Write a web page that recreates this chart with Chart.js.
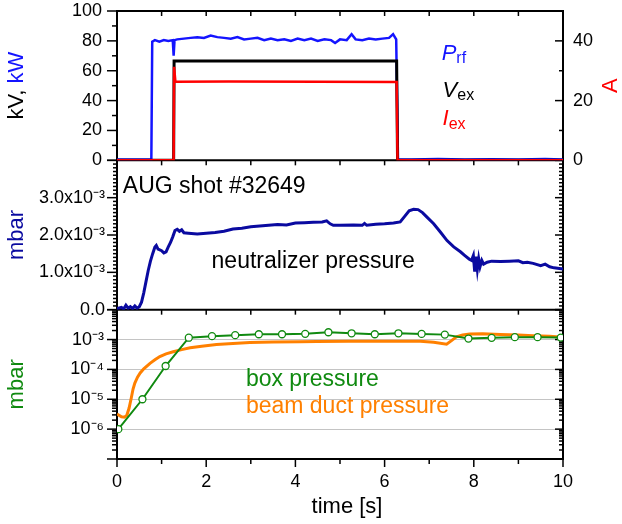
<!DOCTYPE html>
<html>
<head>
<meta charset="utf-8">
<script src="https://cdn.jsdelivr.net/npm/chart.js@4.4.1/dist/chart.umd.min.js"></script>
<style>
  html, body { margin: 0; background: #fff; }
</style>
</head>
<body>
<canvas id="chart" width="622" height="524"></canvas>
<script>
const FONT = "'Liberation Sans', Arial, sans-serif";
Chart.defaults.font.family = FONT;
Chart.defaults.color = '#000';

// panel 1 : rf power (kW), extraction voltage (kV), extraction current (A)
const prfTime = [0, 0.4, 0.77, 0.79, 0.85, 0.95, 1.05, 1.15, 1.25, 1.27, 1.29, 1.35, 1.5, 1.65, 1.8, 1.95, 2.1, 2.25, 2.4, 2.55, 2.7, 2.85, 3.0, 3.15, 3.3, 3.45, 3.6, 3.75, 3.9, 4.05, 4.2, 4.35, 4.5, 4.65, 4.8, 4.89, 5.0, 5.15, 5.26, 5.35, 5.5, 5.65, 5.8, 5.95, 6.1, 6.19, 6.26, 6.3, 6.6, 7.2, 7.8, 8.4, 9.0, 9.6, 10];
const prfKW   = [0.5, 0.6, 0.6, 79.5, 80.5, 79.5, 80.5, 80, 80.5, 70, 80.5, 81, 81.5, 82, 82.5, 82, 83.5, 82.5, 82, 81.5, 82.5, 81, 81.5, 82, 80.5, 81.5, 80.5, 81, 80, 81.5, 80.5, 81.5, 80, 81, 80.5, 78.6, 81, 80.5, 84.5, 81, 80.5, 81.5, 81, 81.5, 82, 84.5, 81, 0.8, 0.5, 0.9, 0.6, 0.8, 0.5, 0.9, 0.6];
const vexTime = [0, 1.27, 1.28, 6.27, 6.29, 10];
const vexKV   = [0, 0, 66.5, 66.5, 0, 0];
const iexTime = [0, 1.27, 1.28, 1.31, 2.5, 4.5, 6.27, 6.29, 10];
const iexA    = [0, 0, 31.3, 26.3, 26.4, 26.3, 26.2, 0, 0];

// panel 2 : neutralizer pressure (mbar)
const neutTime = [0, 0.1, 0.15, 0.2, 0.25, 0.3, 0.35, 0.4, 0.45, 0.5, 0.55, 0.6, 0.65, 0.7, 0.75, 0.8, 0.85, 0.88, 0.92, 0.96, 1.0, 1.05, 1.1, 1.15, 1.2, 1.25, 1.3, 1.35, 1.4, 1.45, 1.5, 1.6, 1.8, 2.0, 2.2, 2.4, 2.6, 2.8, 3.0, 3.2, 3.4, 3.6, 3.8, 4.0, 4.2, 4.4, 4.6, 4.7, 4.78, 4.85, 5.0, 5.3, 5.5, 5.55, 5.6, 5.8, 6.0, 6.2, 6.35, 6.45, 6.55, 6.65, 6.75, 6.85, 6.95, 7.1, 7.25, 7.4, 7.55, 7.7, 7.8, 7.9, 7.95, 7.99, 8.02, 8.05, 8.08, 8.11, 8.14, 8.18, 8.22, 8.3, 8.4, 8.6, 8.8, 9.0, 9.1, 9.2, 9.33, 9.5, 9.6, 9.7, 9.8, 10];
const neutMbar = [0.03e-3, 0.06e-3, 0.02e-3, 0.12e-3, 0.04e-3, 0.08e-3, 0.03e-3, 0.1e-3, 0.04e-3, 0.08e-3, 0.2e-3, 0.45e-3, 0.75e-3, 1.05e-3, 1.3e-3, 1.5e-3, 1.68e-3, 1.72e-3, 1.62e-3, 1.6e-3, 1.58e-3, 1.52e-3, 1.55e-3, 1.68e-3, 1.8e-3, 1.95e-3, 2.12e-3, 2.15e-3, 2.1e-3, 2.14e-3, 2.06e-3, 2.05e-3, 2.03e-3, 2.05e-3, 2.07e-3, 2.1e-3, 2.16e-3, 2.18e-3, 2.22e-3, 2.24e-3, 2.26e-3, 2.28e-3, 2.27e-3, 2.32e-3, 2.33e-3, 2.34e-3, 2.35e-3, 2.38e-3, 2.3e-3, 2.26e-3, 2.26e-3, 2.27e-3, 2.26e-3, 2.31e-3, 2.26e-3, 2.29e-3, 2.3e-3, 2.32e-3, 2.35e-3, 2.5e-3, 2.65e-3, 2.69e-3, 2.68e-3, 2.6e-3, 2.48e-3, 2.3e-3, 2.08e-3, 1.85e-3, 1.68e-3, 1.55e-3, 1.45e-3, 1.35e-3, 1.32e-3, 1.45e-3, 1.02e-3, 1.42e-3, 1.08e-3, 1.36e-3, 1.15e-3, 1.32e-3, 1.22e-3, 1.27e-3, 1.3e-3, 1.29e-3, 1.3e-3, 1.31e-3, 1.26e-3, 1.27e-3, 1.24e-3, 1.18e-3, 1.22e-3, 1.15e-3, 1.12e-3, 1.09e-3];

// panel 3 : box pressure and beam duct pressure (mbar, log)
const boxTime = [0.03, 0.57, 1.09, 1.61, 2.13, 2.65, 3.18, 3.70, 4.22, 4.74, 5.26, 5.78, 6.31, 6.83, 7.35, 7.88, 8.40, 8.92, 9.43, 9.95];
const boxMbar = [1.0e-6, 1.0e-5, 1.3e-4, 1.15e-3, 1.3e-3, 1.4e-3, 1.5e-3, 1.5e-3, 1.55e-3, 1.75e-3, 1.62e-3, 1.5e-3, 1.62e-3, 1.54e-3, 1.46e-3, 1.08e-3, 1.14e-3, 1.2e-3, 1.2e-3, 1.16e-3];
const ductTime = [0, 0.1, 0.17, 0.22, 0.27, 0.32, 0.36, 0.4, 0.46, 0.52, 0.6, 0.74, 0.85, 0.96, 1.1, 1.26, 1.45, 1.64, 1.9, 2.23, 2.6, 2.98, 3.5, 4.1, 4.48, 5.2, 6.35, 6.8, 7.1, 7.39, 7.5, 7.61, 7.75, 7.91, 8.2, 8.59, 9.0, 9.33, 9.7, 10];
const ductMbar = [3.2e-6, 2.6e-6, 2.5e-6, 2.9e-6, 5e-6, 1.1e-5, 2.2e-5, 3.5e-5, 5.5e-5, 7.6e-5, 1.05e-4, 1.6e-4, 2.1e-4, 2.7e-4, 3.3e-4, 3.9e-4, 4.6e-4, 5.3e-4, 6.0e-4, 6.8e-4, 7.4e-4, 7.9e-4, 8.2e-4, 8.4e-4, 8.6e-4, 8.7e-4, 8.8e-4, 8.8e-4, 8.1e-4, 7.0e-4, 9.2e-4, 1.23e-3, 1.42e-3, 1.54e-3, 1.55e-3, 1.48e-3, 1.42e-3, 1.35e-3, 1.28e-3, 1.2e-3];

// tick labels
const xTicks = [0, 2, 4, 6, 8, 10];
const kvTicks = [0, 20, 40, 60, 80, 100];
const ampTicks = [0, 20, 40];
const neutTicks = [0, 1e-3, 2e-3, 3e-3];
const neutLabels = ['0.0', '1.0x10⁻³', '2.0x10⁻³', '3.0x10⁻³'];
const logTicks = [1e-3, 1e-4, 1e-5, 1e-6];
const logLabels = ['10⁻³', '10⁻⁴', '10⁻⁵', '10⁻⁶'];

const BLUE = '#1414ff', DARKBLUE = '#0a0aa0', GREEN = '#108a10', ORANGE = '#ff8000', RED = '#ff0000';

const pts = (ts, vs) => ts.map((t, i) => ({ x: t, y: vs[i] }));
const setTicks = vals => sc => { sc.ticks = vals.map(v => ({ value: v })); };
// fixed axis boxes so the plot area lands where the original has it
const fixWidth = w => sc => { sc.width = w; sc.paddingTop = 0; sc.paddingBottom = 0; };

// frame, panel separators and Origin-style tick marks
const panelFrame = {
  id: 'panelFrame',
  beforeDatasetsDraw(chart) {
    const { ctx, chartArea: a, scales: s } = chart;
    const seg = (x1, y1, x2, y2) => { ctx.beginPath(); ctx.moveTo(x1, y1); ctx.lineTo(x2, y2); ctx.stroke(); };
    const side = (sc, v, outLen, inLen) => {
      const y = sc.getPixelForValue(v);
      if (outLen) seg(a.left - outLen, y, a.left, y);
      if (inLen) seg(a.right - inLen, y, a.right, y);
    };
    ctx.save();
    ctx.strokeStyle = '#000';
    ctx.lineWidth = 1.5;
    for (let i = 0; i <= 10; i++) side(s.y1, i * 10, i % 2 ? 5 : 10, 0);
    for (let i = 0; i <= 5; i++) side(s.yA, i * 10, 0, i % 2 ? 4 : 8);
    for (let i = 0; i <= 40; i++) side(s.y2, i * 1e-4, i % 10 ? 4 : 10, i % 10 ? 4 : 8);
    for (let d = -7; d <= -2; d++) {
      for (let k = 1; k <= 9; k++) {
        if (d === -2 && k > 1) break;
        const v = k * Math.pow(10, d);
        side(s.y3, v, k === 1 ? 10 : 5, k === 1 ? 8 : 4);
      }
    }
    for (let t = 0; t <= 10; t++) {
      const x = s.x.getPixelForValue(t);
      [s.y1.top, s.y2.top, s.y3.top].forEach(top => seg(x, top, x, top + 5));
      seg(x, a.bottom, x, a.bottom + (t % 2 ? 5 : 8));
    }
    ctx.lineWidth = 2;
    ctx.strokeRect(a.left, a.top, a.right - a.left, a.bottom - a.top);
    seg(a.left, s.y1.bottom, a.right, s.y1.bottom);
    seg(a.left, s.y2.bottom, a.right, s.y2.bottom);
    ctx.restore();
  }
};

// draw a run of text pieces (for sub/superscripts and two-colour titles)
function runText(ctx, x, y, parts, rotate) {
  ctx.save();
  ctx.textBaseline = 'middle';
  ctx.textAlign = 'left';
  let w = 0;
  parts.forEach(p => { ctx.font = p.font; w += ctx.measureText(p.text).width; });
  ctx.translate(x, y);
  let cx = 0;
  if (rotate) { ctx.rotate(-Math.PI / 2); cx = -w / 2; }
  parts.forEach(p => {
    ctx.font = p.font;
    ctx.fillStyle = p.color;
    ctx.fillText(p.text, cx, p.dy || 0);
    cx += ctx.measureText(p.text).width;
  });
  ctx.restore();
}

const panelText = {
  id: 'panelText',
  afterDraw(chart) {
    const { ctx, chartArea: a, scales: s } = chart;
    const big = '23px ' + FONT, title = '22px ' + FONT;
    const it = 'italic 22px ' + FONT, sub = '16px ' + FONT;
    const X = t => s.x.getPixelForValue(t);

    runText(ctx, s.y1.left + 17, (s.y1.top + s.y1.bottom) / 2,
      [{ text: 'kV, ', font: title, color: '#000' }, { text: 'kW', font: title, color: BLUE }], true);
    runText(ctx, s.y2.left + 17, (s.y2.top + s.y2.bottom) / 2, [{ text: 'mbar', font: title, color: DARKBLUE }], true);
    runText(ctx, s.y3.left + 17, (s.y3.top + s.y3.bottom) / 2, [{ text: 'mbar', font: title, color: GREEN }], true);
    runText(ctx, s.yA.left + 48, (s.yA.top + s.yA.bottom) / 2, [{ text: 'A', font: title, color: RED }], true);
    ctx.save();
    ctx.font = title; ctx.fillStyle = '#000'; ctx.textAlign = 'center'; ctx.textBaseline = 'middle';
    ctx.fillText('time [s]', (a.left + a.right) / 2 + 7, a.bottom + 48);
    ctx.restore();

    runText(ctx, X(7.28), s.y1.getPixelForValue(71.5),
      [{ text: 'P', font: it, color: BLUE }, { text: 'rf', font: sub, color: BLUE, dy: 5 }]);
    runText(ctx, X(7.3), s.y1.getPixelForValue(46.5),
      [{ text: 'V', font: it, color: '#000' }, { text: 'ex', font: sub, color: '#000', dy: 5 }]);
    runText(ctx, X(7.3), s.y1.getPixelForValue(27.5),
      [{ text: 'I', font: it, color: RED }, { text: 'ex', font: sub, color: RED, dy: 5 }]);

    runText(ctx, X(0.13), s.y2.getPixelForValue(3.3e-3), [{ text: 'AUG shot #32649', font: big, color: '#000' }]);
    runText(ctx, X(2.12), s.y2.getPixelForValue(1.29e-3), [{ text: 'neutralizer pressure', font: big, color: '#000' }]);
    runText(ctx, X(2.89), s.y3.getPixelForValue(4.4e-5), [{ text: 'box pressure', font: big, color: GREEN }]);
    runText(ctx, X(2.89), s.y3.getPixelForValue(5.6e-6), [{ text: 'beam duct pressure', font: big, color: ORANGE }]);
  }
};

const tickFont = { size: 18 };
const hidden = { display: false };
const noGrid = { display: false, drawTicks: false };

new Chart(document.getElementById('chart'), {
  type: 'line',
  data: {
    datasets: [
      { data: pts(iexTime, iexA), yAxisID: 'yA', borderColor: RED, borderWidth: 2.5 },
      { data: pts(vexTime, vexKV), yAxisID: 'y1', borderColor: '#000', borderWidth: 3 },
      { data: pts(prfTime, prfKW), yAxisID: 'y1', borderColor: BLUE, borderWidth: 2.5 },
      { data: pts(neutTime, neutMbar), yAxisID: 'y2', borderColor: DARKBLUE, borderWidth: 3 },
      { data: pts(boxTime, boxMbar), yAxisID: 'y3', borderColor: GREEN, borderWidth: 2,
        pointRadius: 3.5, pointBackgroundColor: '#fff', pointBorderColor: GREEN, pointBorderWidth: 1.3 },
      { data: pts(ductTime, ductMbar), yAxisID: 'y3', borderColor: ORANGE, borderWidth: 3 }
    ]
  },
  options: {
    responsive: false,
    animation: false,
    devicePixelRatio: 1,
    layout: { padding: { top: 11 } },
    elements: { line: { tension: 0 }, point: { radius: 0, hoverRadius: 0 } },
    plugins: { legend: hidden, tooltip: { enabled: false } },
    scales: {
      x: {
        type: 'linear', min: 0, max: 10,
        afterBuildTicks: setTicks(xTicks),
        afterFit: sc => { sc.height = 65; sc.paddingLeft = 0; sc.paddingRight = 0; },
        ticks: { autoSkip: false, maxRotation: 0, padding: 12, font: tickFont },
        grid: noGrid, border: hidden
      },
      y1: {
        type: 'linear', position: 'left', stack: 'left', stackWeight: 1, weight: 3,
        min: 0, max: 100,
        afterBuildTicks: setTicks(kvTicks),
        afterFit: fixWidth(117),
        ticks: { autoSkip: false, padding: 15, font: tickFont },
        grid: noGrid, border: hidden
      },
      y2: {
        type: 'linear', position: 'left', stack: 'left', stackWeight: 1, weight: 2,
        min: 0, max: 4e-3,
        afterBuildTicks: setTicks(neutTicks),
        afterFit: fixWidth(117),
        ticks: { autoSkip: false, padding: 12, font: tickFont,
          callback: v => neutLabels[neutTicks.findIndex(n => Math.abs(n - v) < 1e-9)] },
        grid: noGrid, border: hidden
      },
      y3: {
        type: 'logarithmic', position: 'left', stack: 'left', stackWeight: 1, weight: 1,
        min: 1e-7, max: 1e-2,
        afterBuildTicks: setTicks(logTicks),
        afterFit: fixWidth(117),
        ticks: { autoSkip: false, padding: 13, font: tickFont,
          callback: v => logLabels[logTicks.findIndex(n => Math.abs(n - v) / n < 1e-6)] },
        grid: { display: true, color: '#c4c4c4', lineWidth: 1, drawTicks: false },
        border: hidden
      },
      yA: {
        type: 'linear', position: 'right', stack: 'right', stackWeight: 1, weight: 1,
        min: 0, max: 50,
        afterBuildTicks: setTicks(ampTicks),
        afterFit: fixWidth(59),
        ticks: { autoSkip: false, padding: 10, font: tickFont },
        grid: noGrid, border: hidden
      },
      yR2: {
        type: 'linear', position: 'right', stack: 'right', stackWeight: 1, weight: 2,
        min: 0, max: 1, afterFit: fixWidth(59),
        ticks: hidden, grid: noGrid, border: hidden
      },
      yR3: {
        type: 'linear', position: 'right', stack: 'right', stackWeight: 1, weight: 3,
        min: 0, max: 1, afterFit: fixWidth(59),
        ticks: hidden, grid: noGrid, border: hidden
      }
    }
  },
  plugins: [panelFrame, panelText]
});
</script>
</body>
</html>
